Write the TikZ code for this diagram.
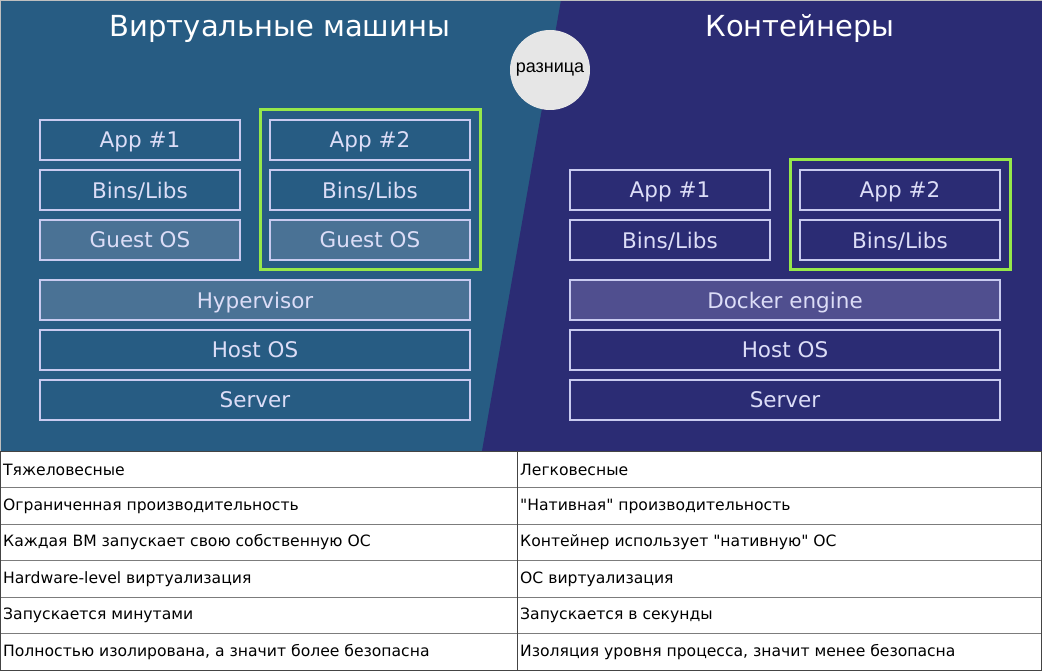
\documentclass[tikz,border=0pt]{standalone}
\usepackage{fontspec}
\setmainfont{DejaVu Sans}
\newfontfamily\difffont{Liberation Sans}
\usetikzlibrary{positioning, fit}
\definecolor{vmblue}{HTML}{275C83}
\definecolor{ctnavy}{HTML}{2B2C74}
\definecolor{layerline}{HTML}{C9CBF0}
\definecolor{layertext}{HTML}{DCDDF7}
\definecolor{guestfill}{HTML}{4A7295}
\definecolor{dockerfill}{HTML}{504F8F}
\definecolor{groupgreen}{HTML}{96E84A}
\definecolor{diffgray}{HTML}{E6E6E6}
\definecolor{tableline}{HTML}{444444}

\begin{document}
\begin{tikzpicture}[x=1pt, y=-1pt,
    layer/.style={draw=layerline, line width=1.6pt, text=layertext,
      minimum width=200pt, minimum height=40pt, inner sep=0pt, outer sep=0pt,
      text depth=-2pt, font=\fontsize{21.5}{24}\selectfont},
    wide/.style={layer, minimum width=430pt},
    group/.style={draw=groupgreen, line width=3pt, inner sep=10pt},
    title/.style={text=white, font=\fontsize{29}{33}\selectfont},
    cell/.style={anchor=west, inner sep=0pt, font=\fontsize{15.6}{18}\selectfont},
    node distance=10pt
  ]
  \useasboundingbox (0,0) rectangle (1042,671);
  % background halves
  \fill[vmblue] (0,0) rectangle (1042,451);
  \fill[ctnavy] (561,0) -- (1042,0) -- (1042,451) -- (482,451) -- cycle;
  \draw[gray!50] (0,0) rectangle (1042,671);

  \node[title] (vmtitle) at (280,29) {Виртуальные машины};
  \node[title] (cttitle) at (800,29) {Контейнеры};
  \node[circle, fill=diffgray, minimum size=80pt, inner sep=0pt,
    font=\difffont\fontsize{18}{20}\selectfont] (diff) at (550,70) {разница};

  % virtual machines stack
  \node[layer] (vmapp1) at (140,140) {App \#1};
  \node[layer, below=of vmapp1] (vmbins1) {Bins/Libs};
  \node[layer, fill=guestfill, below=of vmbins1] (vmguest1) {Guest OS};
  \node[layer, right=30pt of vmapp1] (vmapp2) {App \#2};
  \node[layer, below=of vmapp2] (vmbins2) {Bins/Libs};
  \node[layer, fill=guestfill, below=of vmbins2] (vmguest2) {Guest OS};
  \node[group, fit=(vmapp2)(vmguest2)] (vmgroup) {};
  \node[wide, fill=guestfill] (hypervisor) at (255,300) {Hypervisor};
  \node[wide, below=of hypervisor] (vmhost) {Host OS};
  \node[wide, below=of vmhost] (vmserver) {Server};

  % containers stack
  \node[layer] (ctapp1) at (670,190) {App \#1};
  \node[layer, below=of ctapp1] (ctbins1) {Bins/Libs};
  \node[layer, right=30pt of ctapp1] (ctapp2) {App \#2};
  \node[layer, below=of ctapp2] (ctbins2) {Bins/Libs};
  \node[group, fit=(ctapp2)(ctbins2)] (ctgroup) {};
  \node[wide, fill=dockerfill] (docker) at (785,300) {Docker engine};
  \node[wide, below=of docker] (cthost) {Host OS};
  \node[wide, below=of cthost] (ctserver) {Server};

  % comparison table
  \fill[white] (0,451) rectangle (1041,670);
  \foreach \y in {487.5,524,560.5,597,633.5}
    \draw[tableline!70] (0,\y) -- (1041,\y);
  \draw[tableline] (517,451) -- (517,670);
  \draw[tableline] (0,451) rectangle (1041,670);

  \node[cell] (vmrow1) at (3,469.5) {Тяжеловесные};
  \node[cell] (vmrow2) at (3,506) {Ограниченная производительность};
  \node[cell] (vmrow3) at (3,542.5) {Каждая ВМ запускает свою собственную ОС};
  \node[cell] (vmrow4) at (3,579) {Hardware-level виртуализация};
  \node[cell] (vmrow5) at (3,615.5) {Запускается минутами};
  \node[cell] (vmrow6) at (3,652) {Полностью изолирована, а значит более безопасна};
  \node[cell] (ctrow1) at (520,469.5) {Легковесные};
  \node[cell] (ctrow2) at (520,506) {\textquotedbl Нативная\textquotedbl{} производительность};
  \node[cell] (ctrow3) at (520,542.5) {Контейнер использует \textquotedbl нативную\textquotedbl{} ОС};
  \node[cell] (ctrow4) at (520,579) {ОС виртуализация};
  \node[cell] (ctrow5) at (520,615.5) {Запускается в секунды};
  \node[cell] (ctrow6) at (520,652) {Изоляция уровня процесса, значит менее безопасна};
\end{tikzpicture}
\end{document}
